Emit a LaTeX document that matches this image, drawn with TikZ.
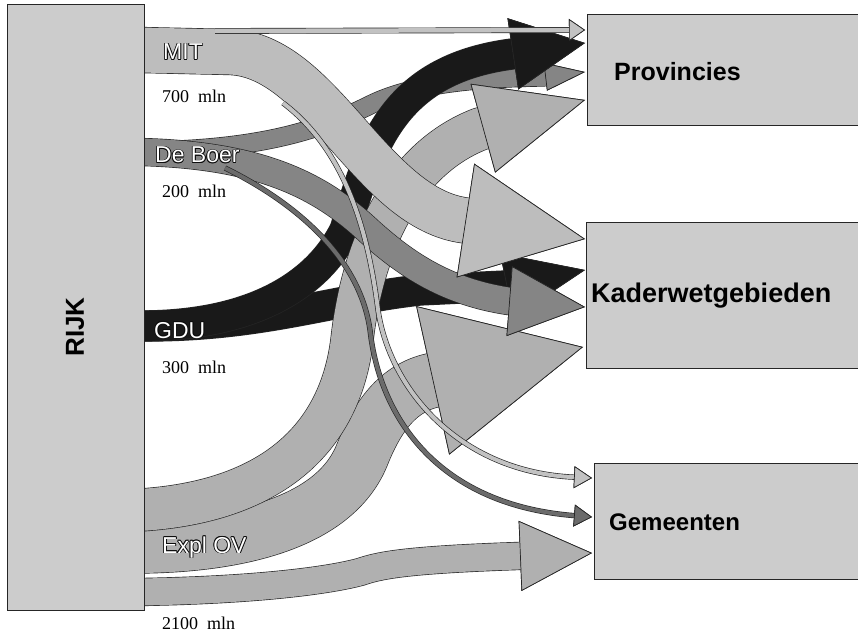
\documentclass[tikz,border=0pt]{standalone}
\usepackage{fontspec}
\setmainfont{Liberation Serif}
\newfontfamily\arial{Liberation Sans}
\usetikzlibrary{arrows.meta}
\definecolor{edgec}{gray}{0.15}
\definecolor{mitc}{gray}{0.74}
\definecolor{ovc}{gray}{0.69}
\definecolor{dbc}{gray}{0.52}
\definecolor{gduc}{gray}{0.1}
\definecolor{boxc}{gray}{0.8}
\definecolor{thinl}{gray}{0.76}
\definecolor{thind}{gray}{0.42}
\definecolor{labedge}{gray}{0.05}
\newcommand{\shd}[3]{\rlap{\kern#1\raisebox{#2}{\color{labedge}#3}}}
\newcommand{\olab}[1]{\shd{-0.8pt}{0pt}{#1}\shd{0.8pt}{0pt}{#1}\shd{0pt}{0.8pt}{#1}\shd{0pt}{-0.8pt}{#1}\shd{-0.6pt}{0.6pt}{#1}\shd{0.6pt}{0.6pt}{#1}\shd{-0.6pt}{-0.6pt}{#1}\shd{0.6pt}{-0.6pt}{#1}\textcolor{white}{#1}}
\begin{document}
\begin{tikzpicture}[x=1pt,y=-1pt,
  bandedge/.style n args={3}{draw=edgec, line width=#1+1.3pt, line join=round,
    -{Triangle[length=#2,width=#3,line width=0.7pt,color=edgec,fill=edgec]}},
  bandfill/.style n args={4}{draw=#1, line width=#2, line join=round,
    -{Triangle[length=#3,width=#4,line width=0.7pt,color=edgec,fill=#1]}},
  band/.style n args={4}{bandfill={#1}{#2}{#3}{#4}, preaction={bandedge={#2}{#3}{#4}}},
  boxs/.style={draw=edgec, line width=1pt, fill=boxc, inner sep=0pt},
  lab/.style={font=\arial\fontsize{23}{27}\selectfont, anchor=base west, inner sep=0pt},
  amt/.style={font=\fontsize{18}{21}\selectfont, anchor=base west, inner sep=0pt},
  boxlab/.style={font=\arial\bfseries, anchor=west, inner sep=0pt}]
\useasboundingbox (0,0) rectangle (858,636);
\fill[white] (0,0) rectangle (858,636);

% arrow tips at the target boxes
\coordinate (tP1) at (585,30);
\coordinate (tP2) at (585,43);
\coordinate (tP3) at (585,72);
\coordinate (tP4) at (585,100);
\coordinate (tK1) at (585,239);
\coordinate (tK2) at (585,270);
\coordinate (tK3) at (585,307);
\coordinate (tK4) at (583,347);
\coordinate (tG1) at (592,478);
\coordinate (tG2) at (592,517);
\coordinate (tG3) at (592,553);

% Expl OV group: outlines first, then fills
\draw[bandedge={27pt}{72pt}{70pt}] (140,592) .. controls (260,590) and (330,580) .. (360,572) .. controls (378,566) and (400,560) .. (518,556) -- (tG3);
\draw[bandedge={54pt}{154pt}{152pt}] (140,546) .. controls (240,545) and (335,522) .. (362,455) .. controls (376,420) and (395,390) .. (430,381) -- (tK4);
\draw[bandfill={ovc}{27pt}{72pt}{70pt}] (140,592) .. controls (260,590) and (330,580) .. (360,572) .. controls (378,566) and (400,560) .. (518,556) -- (tG3);
\draw[bandfill={ovc}{54pt}{154pt}{152pt}] (140,546) .. controls (240,545) and (335,522) .. (362,455) .. controls (376,420) and (395,390) .. (430,381) -- (tK4);

% GDU to Kaderwetgebieden
\draw[band={gduc}{30pt}{80pt}{66pt}] (140,326) .. controls (260,327) and (330,300) .. (420,290) -- (505,286) -- (tK2);
% De Boer to Provincies
\draw[band={dbc}{18pt}{40pt}{28pt}] (140,151) .. controls (260,150) and (320,130) .. (370,105) .. controls (410,85) and (470,78) .. (543,77) -- (tP3);
% GDU to Provincies
\draw[band={gduc}{30pt}{73pt}{72pt}] (140,326) .. controls (260,326) and (320,280) .. (345,230) .. controls (370,150) and (390,70) .. (512,54) -- (tP2);
% Expl OV to Provincies
\draw[bandedge={42pt}{106pt}{92pt}] (140,510) .. controls (270,502) and (340,440) .. (352,340) .. controls (362,250) and (400,160) .. (480,129) -- (tP4);
\draw[bandfill={ovc}{42pt}{106pt}{92pt}] (140,510) .. controls (270,502) and (340,440) .. (352,340) .. controls (362,250) and (400,160) .. (480,129) -- (tP4);
% De Boer to Kaderwetgebieden
\draw[band={dbc}{27pt}{76pt}{70pt}] (140,152) .. controls (260,155) and (320,185) .. (370,232) .. controls (410,268) and (450,292) .. (508,301) -- (tK3);
% MIT to Kaderwetgebieden
\draw[band={mitc}{45pt}{121pt}{115pt}] (140,50) -- (230,52) .. controls (320,55) and (370,205) .. (462,220) -- (tK1);
% thin flows
\draw[band={thinl}{4.5pt}{16pt}{22pt}] (215,31) -- (tP1);
\draw[band={thinl}{4pt}{18pt}{22pt}] (283,103) .. controls (345,150) and (368,230) .. (378,310) .. controls (390,390) and (460,472) .. (tG1);
\draw[band={thind}{4pt}{18pt}{22pt}] (225,168) .. controls (300,205) and (360,260) .. (370,330) .. controls (380,420) and (440,505) .. (tG2);

% boxes
\node[boxs, minimum width=137pt, minimum height=605pt] (rijk) at (75.5,307.5) {};
\node[boxs, minimum width=275pt, minimum height=111pt] (prov) at (724.5,70.5) {};
\node[boxs, minimum width=276pt, minimum height=146pt] (kader) at (724,295) {};
\node[boxs, minimum width=268pt, minimum height=116pt] (gem) at (728,521) {};

\node[font=\arial\bfseries\fontsize{26}{30}\selectfont, rotate=90, inner sep=0pt] (rijklab) at (75,327) {RIJK};
\node[boxlab, font=\arial\bfseries\fontsize{25}{30}\selectfont] (provlab) at (614,72) {Provincies};
\node[boxlab, font=\arial\bfseries\fontsize{27}{32}\selectfont] (kaderlab) at (591,296) {Kaderwetgebieden};
\node[boxlab, font=\arial\bfseries\fontsize{24}{29}\selectfont] (gemlab) at (609,522) {Gemeenten};

% flow labels
\node[lab] (lmit) at (163,60) {\olab{MIT}};
\node[lab] (ldb) at (155,163) {\olab{De Boer}};
\node[lab] (lgdu) at (154,338) {\olab{GDU}};
\node[lab] (lov) at (162,553) {\olab{Expl OV}};
\node[amt] (a1) at (162,103) {700\hspace{9pt}mln};
\node[amt] (a2) at (162,197) {200\hspace{9pt}mln};
\node[amt] (a3) at (162,373) {300\hspace{9pt}mln};
\node[amt] (a4) at (162,629) {2100\hspace{9pt}mln};
\end{tikzpicture}
\end{document}
